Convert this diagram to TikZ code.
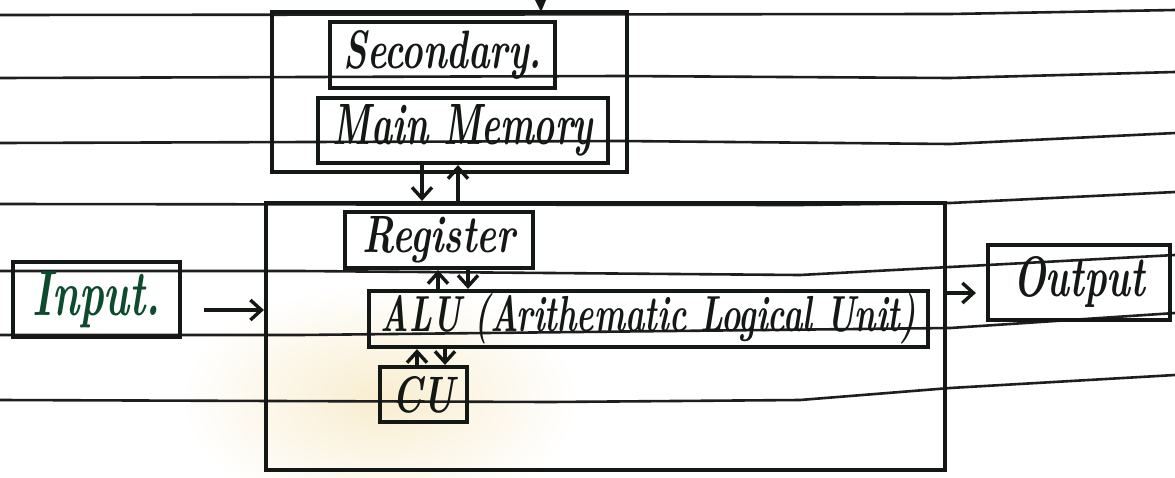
\documentclass[tikz,border=0pt]{standalone}
\usetikzlibrary{arrows.meta}
\definecolor{ink}{HTML}{141814}
\definecolor{greenink}{HTML}{0E4A2E}
\definecolor{rule}{HTML}{1E1E1E}
\definecolor{haze}{HTML}{F8EDCF}
% handwritten-style label, stretched to a given width and height
\newcommand{\hw}[3]{\resizebox{#1}{#2}{\bfseries\itshape #3}}
\begin{document}
\begin{tikzpicture}[x=1pt,y=-1pt,
  box/.style={draw=ink, line width=4.2pt, inner sep=0pt, text=ink},
  ruling/.style={draw=rule, line width=2.6pt},
  flow/.style={draw=ink, line width=3.4pt,
    -{Straight Barb[length=11pt,width=20pt,line width=3.4pt]}},
]
\useasboundingbox (0,0) rectangle (1175,477);
\fill[white] (0,0) rectangle (1175,477);
\shade[inner color=haze, outer color=white] (380,400) ellipse (200 and 115);

% ruled notebook lines
\draw[ruling] (0,15) -- (950,14) -- (1175,10);
\draw[ruling] (0,78) -- (620,76) -- (950,78) -- (1175,72);
\draw[ruling] (0,143) -- (620,141) -- (950,144) -- (1175,133);
\draw[ruling] (0,204) -- (800,205) -- (950,203) -- (1175,192);
\draw[ruling] (0,271) -- (300,271) -- (800,275) -- (950,267) -- (1175,255);
\draw[ruling] (0,335) -- (300,335) -- (950,328) -- (1175,313);
\draw[ruling] (0,400) -- (550,402) -- (800,400) -- (950,388) -- (1175,375);

% memory unit
\node[box, minimum width=355pt, minimum height=160pt] (memory) at (449.5,92) {};
\node[box, minimum width=225pt, minimum height=66pt] (sec) at (442.5,55)
  {\hw{198pt}{38pt}{Secondary.}};
\node[box, minimum width=290pt, minimum height=65pt] (mm) at (463,130.5)
  {\hw{260pt}{40pt}{Main Memory}};

% processor
\node[box, minimum width=679pt, minimum height=267pt] (cpu) at (605.5,336.5) {};
\node[box, minimum width=188pt, minimum height=56pt] (reg) at (439,240)
  {\hw{153pt}{36pt}{Register}};
\node[box, minimum width=559pt, minimum height=56pt] (alu) at (648.5,319)
  {\hw{535pt}{38pt}{ALU (Arithematic Logical Unit)}};
\node[box, minimum width=87pt, minimum height=55pt] (cu) at (423.5,394.5)
  {\hw{62pt}{36pt}{CU}};

% input and output
\node[box, text=greenink, minimum width=167pt, minimum height=75pt] (input) at (96.5,299.5)
  {\hw{128pt}{44pt}{Input.}};
\node[box, minimum width=182pt, minimum height=75pt] (output) at (1079,282.5)
  {\hw{132pt}{40pt}{Output}};

% arrow columns and rows
\coordinate (mdown) at (422,0);
\coordinate (mup) at (458,0);
\coordinate (rup) at (438,0);
\coordinate (rdown) at (468,0);
\coordinate (cup) at (417,0);
\coordinate (cdown) at (445,0);
\coordinate (inrow) at (0,310);
\coordinate (outrow) at (0,293);

\draw[flow] (mm.south -| mdown) -- (cpu.north -| mdown);
\draw[flow] (cpu.north -| mup) -- (mm.south -| mup);
\draw[flow] (alu.north -| rup) -- (reg.south -| rup);
\draw[flow] (reg.south -| rdown) -- (alu.north -| rdown);
\draw[flow] (cu.north -| cup) -- (alu.south -| cup);
\draw[flow] (alu.south -| cdown) -- (cu.north -| cdown);
\draw[flow, shorten <=22pt] (input.east |- inrow) -- (cpu.west |- inrow);
\draw[flow, shorten >=10pt] (cpu.east |- outrow) -- (output.west |- outrow);

% arrow tip reaching in from above
\fill[ink] (535,0) -- (546,0) -- (541,12) -- cycle;
\end{tikzpicture}
\end{document}
